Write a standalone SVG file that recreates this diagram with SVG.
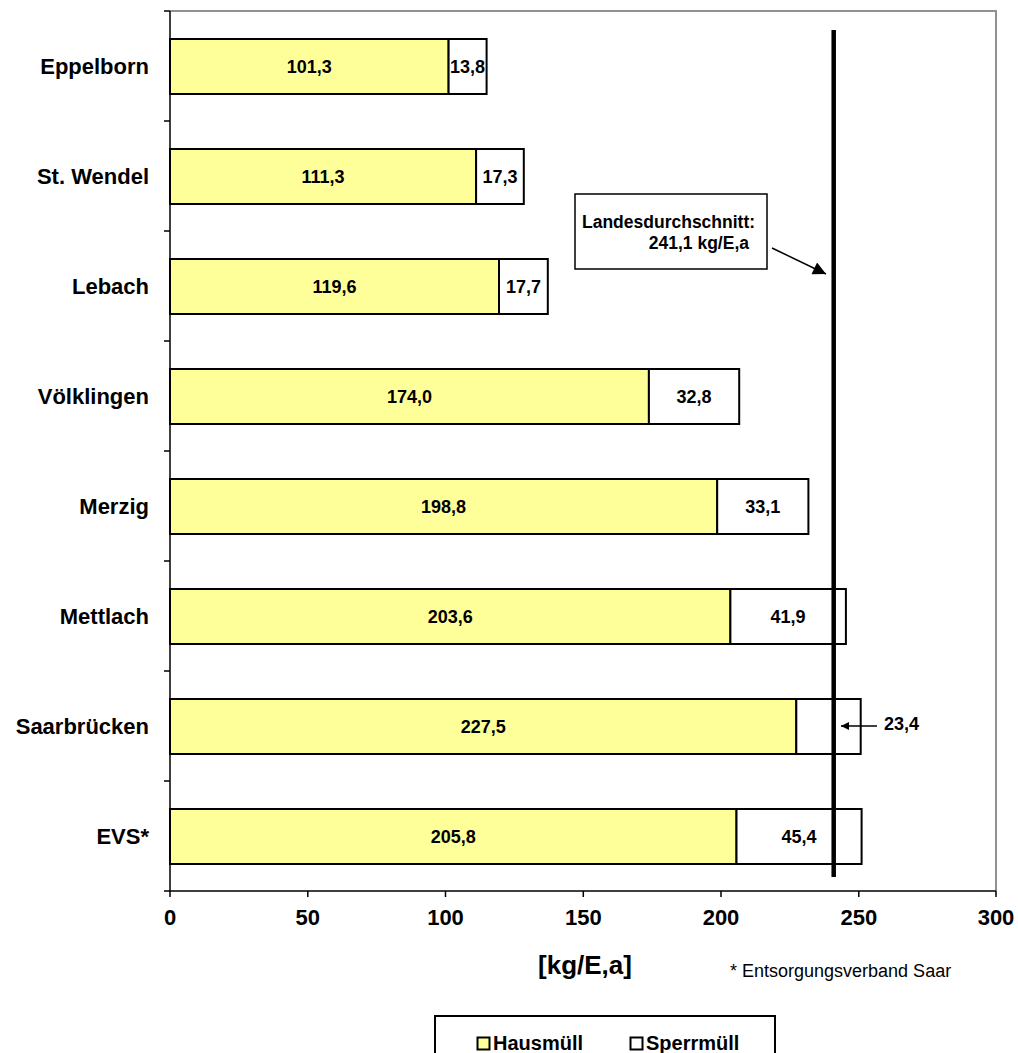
<svg xmlns="http://www.w3.org/2000/svg" width="1018" height="1053" viewBox="0 0 1018 1053">
<style>
text{font-family:"Liberation Sans",Arial,sans-serif;fill:#000}
.cat{font-size:22px;font-weight:bold;text-anchor:end}
.val{font-size:18px;font-weight:bold;text-anchor:middle}
.tick{font-size:22px;font-weight:bold;text-anchor:middle}
.h{fill:#FFFF99;stroke:#000;stroke-width:2}
.s{fill:#fff;stroke:#000;stroke-width:2}
.ax{stroke:#000;stroke-width:1.5;fill:none}
.gr{stroke:#909090;stroke-width:2;fill:none}
</style>
<defs>
<marker id="ah" viewBox="0 0 10 10" refX="10" refY="5" markerWidth="9" markerHeight="8" orient="auto" markerUnits="userSpaceOnUse">
<path d="M0,0 L10,5 L0,10 z" fill="#000"/>
</marker>
<marker id="ah2" viewBox="0 0 10 10" refX="10" refY="5" markerWidth="15" markerHeight="13" orient="auto" markerUnits="userSpaceOnUse">
<path d="M0,0 L10,5 L0,10 z" fill="#000"/>
</marker>
</defs>
<rect width="1018" height="1053" fill="#fff"/>
<g id="frame">
<path class="gr" d="M170,11 H996 V891"/>
<path class="ax" d="M170,11 V891 H996"/>
<path class="ax" d="M164,11H170M164,121H170M164,231H170M164,341H170M164,451H170M164,561H170M164,671H170M164,781H170M164,891H170"/>
<path class="ax" d="M170,891V897M307.8,891V897M445.5,891V897M583.3,891V897M721,891V897M858.8,891V897M996,891V897"/>
</g>
<g id="ticks">
<text class="tick" x="170" y="925">0</text>
<text class="tick" x="307.8" y="925">50</text>
<text class="tick" x="445.5" y="925">100</text>
<text class="tick" x="583.3" y="925">150</text>
<text class="tick" x="721" y="925">200</text>
<text class="tick" x="858.8" y="925">250</text>
<text class="tick" x="996" y="925">300</text>
</g>
<g id="bar-eppelborn">
<rect class="h" x="170" y="39" width="278.6" height="55"/>
<rect class="s" x="448.6" y="39" width="38" height="55"/>
<text class="cat" x="149" y="74">Eppelborn</text>
<text class="val" x="309.3" y="73">101,3</text>
<text class="val" x="467.6" y="73">13,8</text>
</g>
<g id="bar-stwendel">
<rect class="h" x="170" y="149" width="306.1" height="55"/>
<rect class="s" x="476.1" y="149" width="47.7" height="55"/>
<text class="cat" x="149" y="184">St. Wendel</text>
<text class="val" x="323" y="183">111,3</text>
<text class="val" x="500" y="183">17,3</text>
</g>
<g id="bar-lebach">
<rect class="h" x="170" y="259" width="329" height="55"/>
<rect class="s" x="499" y="259" width="48.8" height="55"/>
<text class="cat" x="149" y="294">Lebach</text>
<text class="val" x="334.5" y="293">119,6</text>
<text class="val" x="523.4" y="293">17,7</text>
</g>
<g id="bar-voelklingen">
<rect class="h" x="170" y="369" width="478.9" height="55"/>
<rect class="s" x="648.9" y="369" width="90.3" height="55"/>
<text class="cat" x="149" y="404">Völklingen</text>
<text class="val" x="409.5" y="403">174,0</text>
<text class="val" x="694" y="403">32,8</text>
</g>
<g id="bar-merzig">
<rect class="h" x="170" y="479" width="547.2" height="55"/>
<rect class="s" x="717.2" y="479" width="91.2" height="55"/>
<text class="cat" x="149" y="514">Merzig</text>
<text class="val" x="443.6" y="513">198,8</text>
<text class="val" x="762.8" y="513">33,1</text>
</g>
<g id="bar-mettlach">
<rect class="h" x="170" y="589" width="560.4" height="55"/>
<rect class="s" x="730.4" y="589" width="115.5" height="55"/>
<text class="cat" x="149" y="624">Mettlach</text>
<text class="val" x="450.2" y="623">203,6</text>
<text class="val" x="788.1" y="623">41,9</text>
</g>
<g id="bar-saarbruecken">
<rect class="h" x="170" y="699" width="626.3" height="55"/>
<rect class="s" x="796.3" y="699" width="64.4" height="55"/>
<text class="cat" x="149" y="734">Saarbrücken</text>
<text class="val" x="483.2" y="733">227,5</text>
</g>
<g id="bar-evs">
<rect class="h" x="170" y="809" width="566.5" height="55"/>
<rect class="s" x="736.5" y="809" width="125.1" height="55"/>
<text class="cat" x="149" y="844">EVS*</text>
<text class="val" x="453.3" y="843">205,8</text>
<text class="val" x="799" y="843">45,4</text>
</g>
<g id="average-line">
<line x1="833.7" y1="30" x2="833.7" y2="877" stroke="#000" stroke-width="4.5"/>
</g>
<g id="avg-label">
<rect x="575" y="194" width="192" height="75" fill="#fff" stroke="#000" stroke-width="1.5"/>
<text x="582" y="228" style="font-size:17.5px;font-weight:bold">Landesdurchschnitt:</text>
<text x="749" y="249" style="font-size:17.5px;font-weight:bold;text-anchor:end">241,1 kg/E,a</text>
</g>
<g id="connectors">
<line x1="772" y1="248" x2="826" y2="274" stroke="#000" stroke-width="1.5" marker-end="url(#ah2)"/>
<line x1="877" y1="726" x2="841" y2="726" stroke="#000" stroke-width="1.5" marker-end="url(#ah)"/>
</g>
<g id="saar-label">
<text x="884" y="730" style="font-size:18px;font-weight:bold">23,4</text>
</g>
<g id="axis-title">
<text x="585" y="974" style="font-size:26px;font-weight:bold;text-anchor:middle">[kg/E,a]</text>
<text x="730" y="977" style="font-size:18px">* Entsorgungsverband Saar</text>
</g>
<g id="legend">
<rect x="435" y="1016" width="340" height="60" fill="#fff" stroke="#000" stroke-width="2"/>
<rect x="477.5" y="1037.5" width="12" height="12" fill="#FFFF99" stroke="#000" stroke-width="2"/>
<text x="493" y="1050" style="font-size:20px;font-weight:bold">Hausmüll</text>
<rect x="630.5" y="1037.5" width="12" height="12" fill="#fff" stroke="#000" stroke-width="2"/>
<text x="646" y="1050" style="font-size:20px;font-weight:bold">Sperrmüll</text>
</g>
</svg>
